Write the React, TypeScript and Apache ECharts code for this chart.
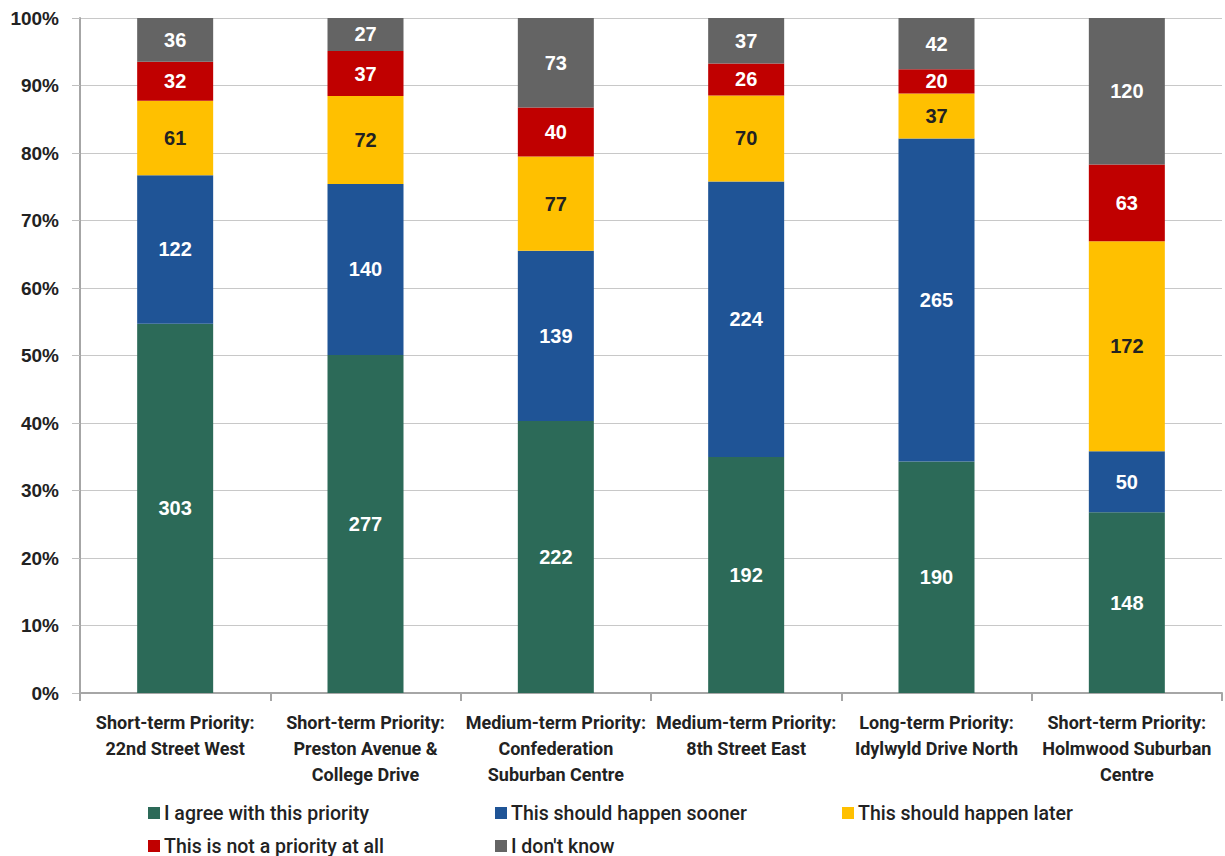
import React, { useEffect, useRef } from "react";
import * as echarts from "echarts";

const categories = [
  "Short-term Priority:\n22nd Street West",
  "Short-term Priority:\nPreston Avenue &\nCollege Drive",
  "Medium-term Priority:\nConfederation\nSuburban Centre",
  "Medium-term Priority:\n8th Street East",
  "Long-term Priority:\nIdylwyld Drive North",
  "Short-term Priority:\nHolmwood Suburban\nCentre",
];

const seriesNames = [
  "I agree with this priority",
  "This should happen sooner",
  "This should happen later",
  "This is not a priority at all",
  "I don't know",
];

const agree = [303, 277, 222, 192, 190, 148];
const sooner = [122, 140, 139, 224, 265, 50];
const later = [61, 72, 77, 70, 37, 172];
const notPriority = [32, 37, 40, 26, 20, 63];
const dontKnow = [36, 27, 73, 37, 42, 120];

const yTicks = [0, 10, 20, 30, 40, 50, 60, 70, 80, 90, 100];

const colors = ["#2C6A58", "#1F5496", "#FFC000", "#C00000", "#646464"];
const labelColors = ["#ffffff", "#ffffff", "#222222", "#ffffff", "#ffffff"];

const NARROW = "Roboto, 'Liberation Sans', sans-serif";

// legend slot positions (left, top) for each series
const legendSlots = [
  [148, 803],
  [495, 803],
  [842, 803],
  [148, 836],
  [495, 836],
];

export default function App() {
  const ref = useRef<HTMLDivElement>(null);
  useEffect(() => {
    if (!ref.current) return;
    const chart = echarts.init(ref.current, null, { renderer: "svg" });
    const all = [agree, sooner, later, notPriority, dontKnow];
    const totals = categories.map((_, i) => all.reduce((s, arr) => s + arr[i], 0));
    const series = all.map((arr, si) => ({
      name: seriesNames[si],
      type: "bar",
      stack: "total",
      barWidth: 76,
      itemStyle: { color: colors[si] },
      data: arr.map((v, i) => ({ value: (v / totals[i]) * 100, raw: v })),
      label: {
        show: true,
        position: "inside",
        color: labelColors[si],
        fontFamily: "'Liberation Sans', Arial, sans-serif",
        fontWeight: "bold",
        fontSize: 20,
        formatter: (p: any) => String(p.data.raw),
      },
    }));
    const legends = seriesNames.map((name, i) => ({
      orient: "horizontal",
      left: legendSlots[i][0],
      top: legendSlots[i][1],
      padding: 0,
      itemWidth: 12,
      itemHeight: 12,
      icon: "rect",
      data: [name],
      textStyle: {
        fontFamily: NARROW,
        fontWeight: 500,
        fontSize: 19.5,
        color: "#222222",
        padding: [0, 0, 0, -1],
      },
    }));
    chart.setOption({
      animation: false,
      grid: { left: 80, right: 3, top: 18, bottom: 163, containLabel: false },
      legend: legends,
      xAxis: {
        type: "category",
        data: categories,
        axisLine: { lineStyle: { color: "#A6A6A6", width: 2 } },
        axisTick: { show: true, length: 8, lineStyle: { color: "#A6A6A6", width: 2 } },
        axisLabel: {
          interval: 0,
          margin: 16,
          fontFamily: NARROW,
          fontWeight: "bold",
          fontSize: 18,
          lineHeight: 26,
          color: "#222222",
          align: "center",
        },
      },
      yAxis: {
        type: "value",
        min: 0,
        max: 100,
        interval: 10,
        axisLine: { show: true, lineStyle: { color: "#A6A6A6", width: 2 } },
        axisTick: { show: true, length: 8, lineStyle: { color: "#BFBFBF" } },
        splitLine: { lineStyle: { color: "#C8C8C8", width: 1 } },
        axisLabel: {
          margin: 21,
          fontFamily: "'Liberation Sans', Arial, sans-serif",
          fontWeight: "bold",
          fontSize: 19,
          color: "#222222",
          formatter: (v: number) => (yTicks.includes(v) ? v + "%" : ""),
        },
      },
      series,
    });
    return () => chart.dispose();
  }, []);
  return (
    <div
      ref={ref}
      style={{ position: "fixed", left: 0, top: 0, width: 1225, height: 856, background: "#ffffff" }}
    />
  );
}
